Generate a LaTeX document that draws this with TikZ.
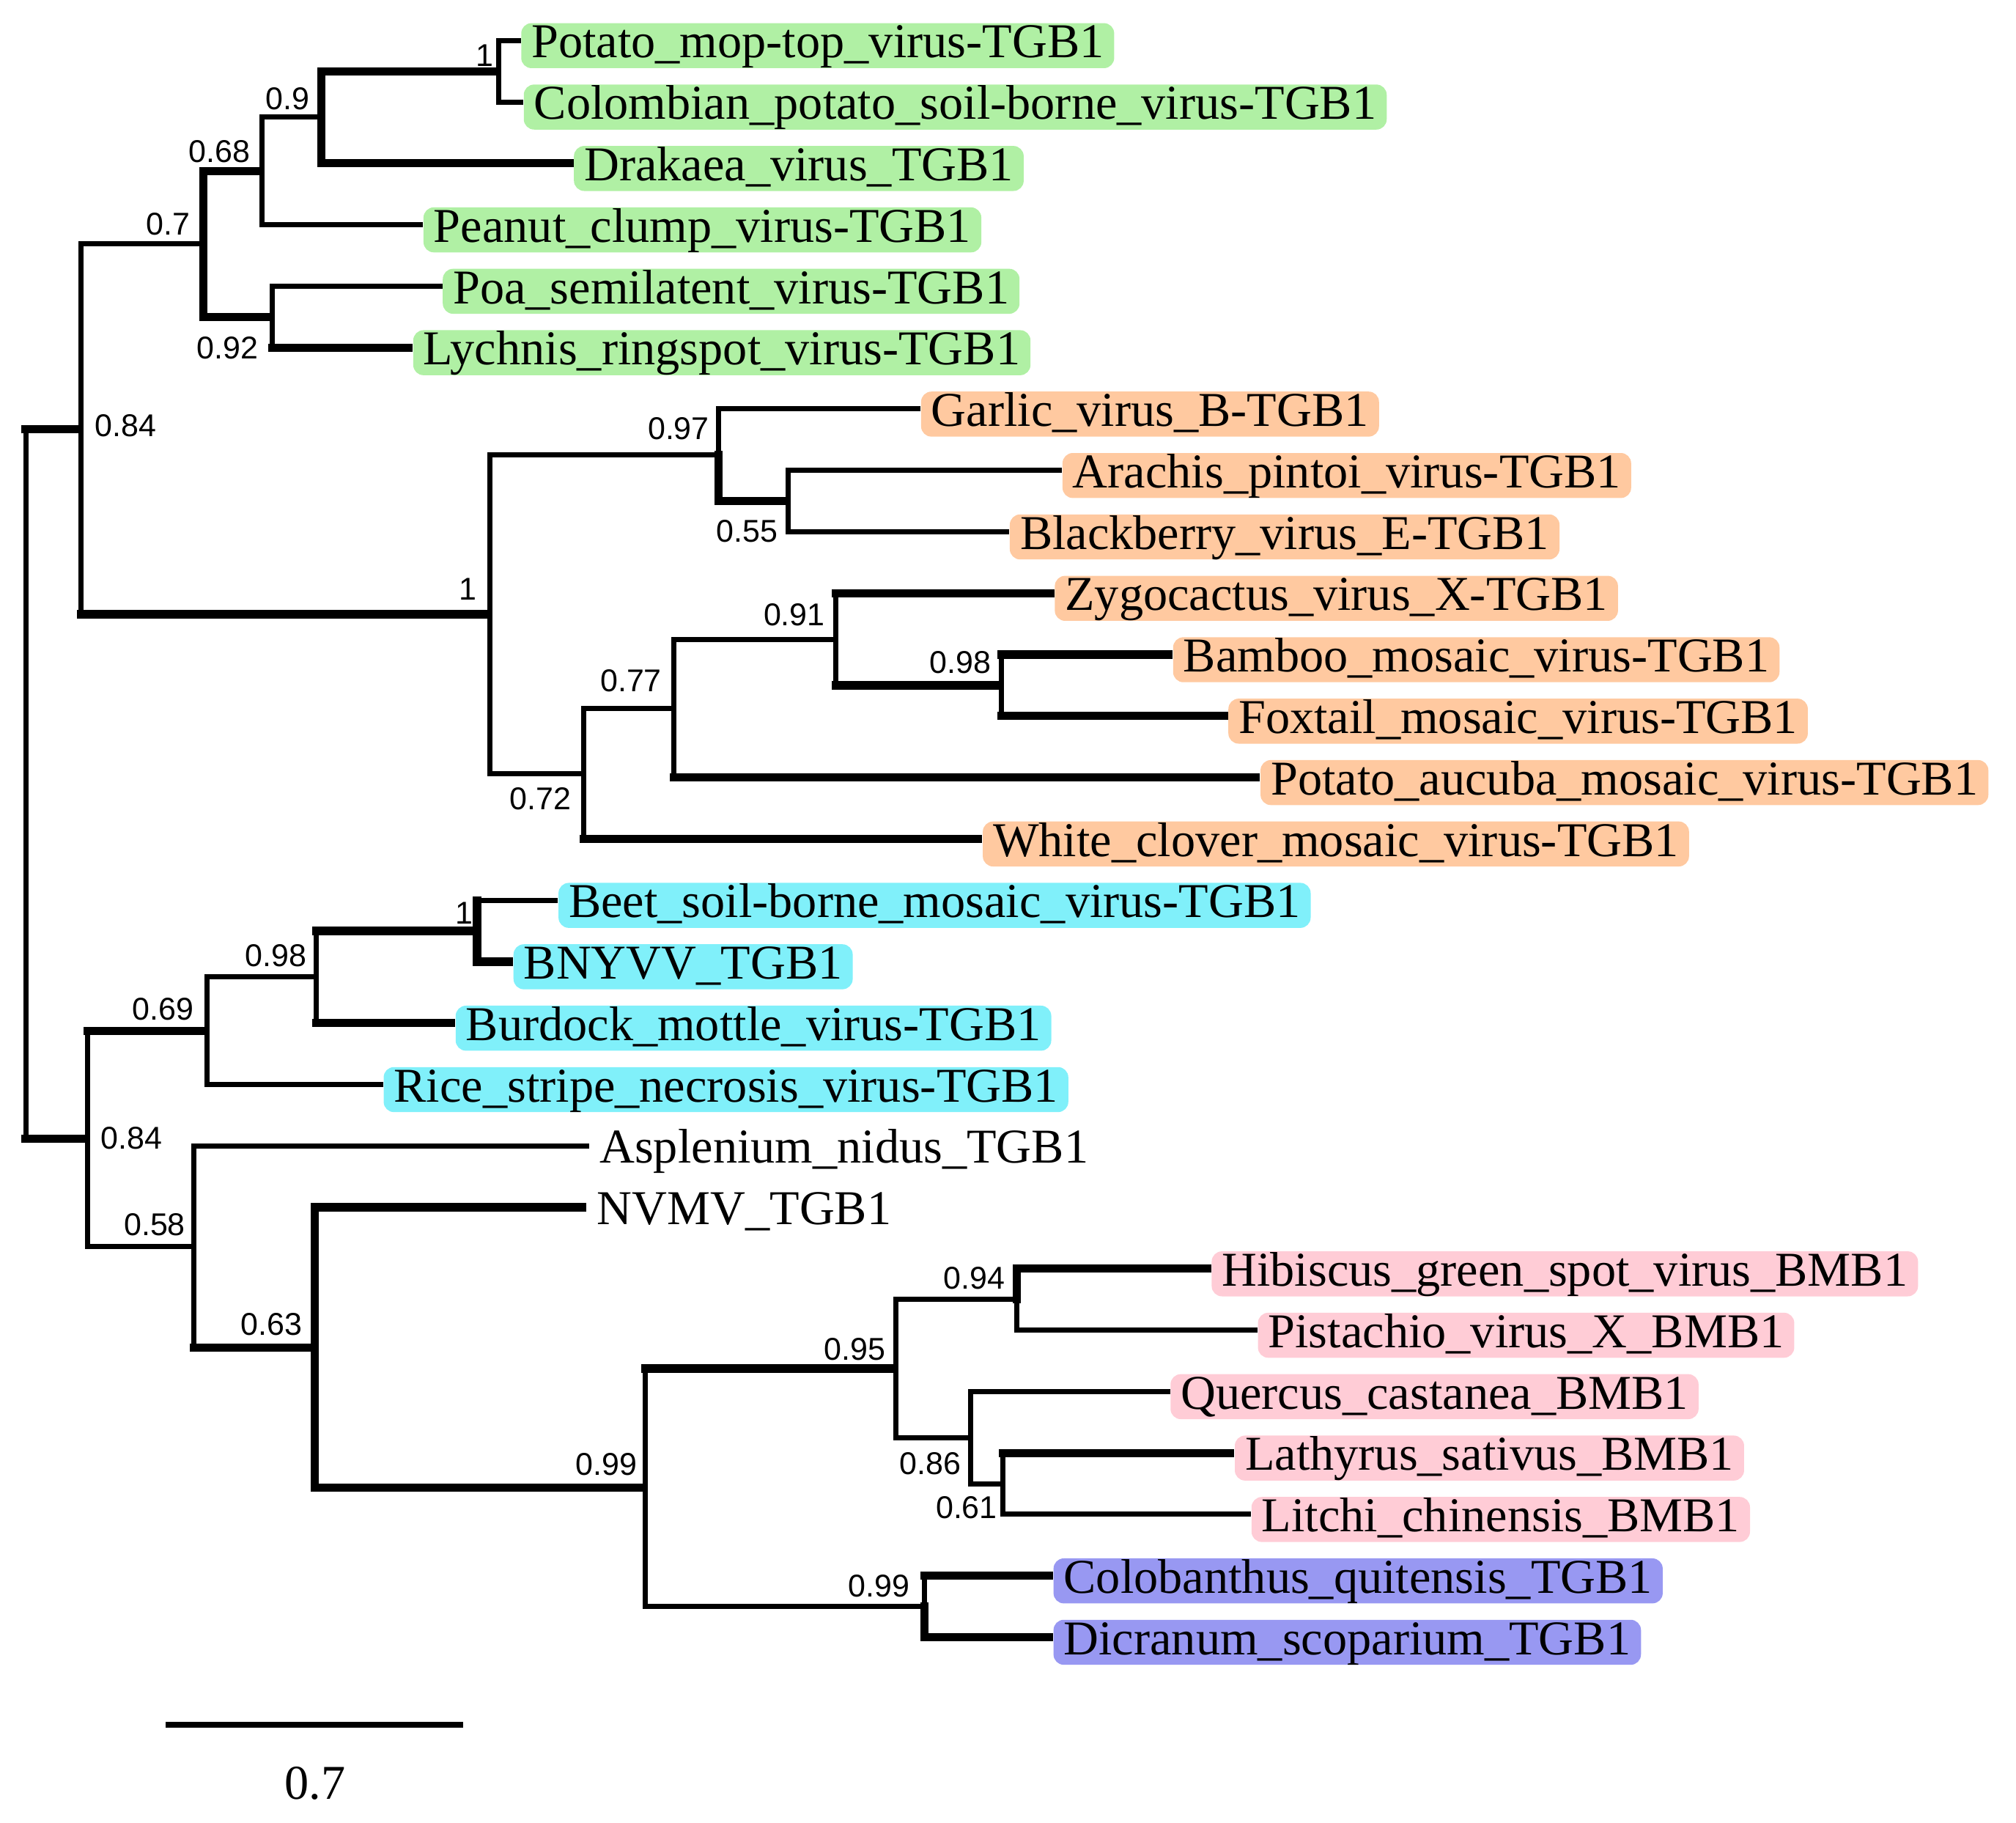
\documentclass[tikz,border=0pt]{standalone}
\usepackage{fontspec}
\setmainfont{Liberation Serif}
\newfontfamily\bsfont{Liberation Sans}
\definecolor{cgreen}{RGB}{176,240,164}
\definecolor{corange}{RGB}{255,201,160}
\definecolor{ccyan}{RGB}{128,240,250}
\definecolor{cpink}{RGB}{255,204,214}
\definecolor{cblue}{RGB}{152,152,242}
\tikzset{
  leaf/.style={anchor=west, yshift=-2pt, inner xsep=4pt, inner ysep=0pt,
    text height=13.5pt, text depth=4pt, rounded corners=4pt,
    font=\fontsize{18.9pt}{22pt}\selectfont},
  gr/.style={leaf, fill=cgreen},
  orr/.style={leaf, fill=corange},
  cy/.style={leaf, fill=ccyan},
  pk/.style={leaf, fill=cpink},
  bl/.style={leaf, fill=cblue},
  bs/.style={inner sep=0pt, anchor=east, font=\bsfont\fontsize{12.25pt}{14pt}\selectfont},
  thinln/.style={line width=2pt, line cap=rect, line join=miter, shorten >=1pt},
  thickln/.style={line width=3.2pt, line cap=rect, line join=miter, shorten >=1.6pt},
}
\begin{document}
\begin{tikzpicture}[x=0.5pt, y=-0.5pt]
\useasboundingbox (0,0) rectangle (1568,1417);

% ---- leaves ----
\node[gr] (l1) at (405,31.5) {Potato\_mop-top\_virus-TGB1};
\node[gr] (l2) at (407,79.25) {Colombian\_potato\_soil-borne\_virus-TGB1};
\node[gr] (l3) at (446,127) {Drakaea\_virus\_TGB1};
\node[gr] (l4) at (329,174.75) {Peanut\_clump\_virus-TGB1};
\node[gr] (l5) at (344,222.5) {Poa\_semilatent\_virus-TGB1};
\node[gr] (l6) at (321,270.25) {Lychnis\_ringspot\_virus-TGB1};
\node[orr] (l7) at (716,318) {Garlic\_virus\_B-TGB1};
\node[orr] (l8) at (826,365.75) {Arachis\_pintoi\_virus-TGB1};
\node[orr] (l9) at (785,413.5) {Blackberry\_virus\_E-TGB1};
\node[orr] (l10) at (820,461.25) {Zygocactus\_virus\_X-TGB1};
\node[orr] (l11) at (912,509) {Bamboo\_mosaic\_virus-TGB1};
\node[orr] (l12) at (955,556.75) {Foxtail\_mosaic\_virus-TGB1};
\node[orr] (l13) at (980,604.5) {Potato\_aucuba\_mosaic\_virus-TGB1};
\node[orr] (l14) at (764,652.25) {White\_clover\_mosaic\_virus-TGB1};
\node[cy] (l15) at (434,700) {Beet\_soil-borne\_mosaic\_virus-TGB1};
\node[cy] (l16) at (399,747.75) {BNYVV\_TGB1};
\node[cy] (l17) at (354,795.5) {Burdock\_mottle\_virus-TGB1};
\node[cy] (l18) at (298,843.25) {Rice\_stripe\_necrosis\_virus-TGB1};
\node[leaf] (l19) at (458,891) {Asplenium\_nidus\_TGB1};
\node[leaf] (l20) at (456,938.75) {NVMV\_TGB1};
\node[pk] (l21) at (942,986.5) {Hibiscus\_green\_spot\_virus\_BMB1};
\node[pk] (l22) at (978,1034.25) {Pistachio\_virus\_X\_BMB1};
\node[pk] (l23) at (910,1082) {Quercus\_castanea\_BMB1};
\node[pk] (l24) at (960,1129.75) {Lathyrus\_sativus\_BMB1};
\node[pk] (l25) at (973,1177.5) {Litchi\_chinensis\_BMB1};
\node[bl] (l26) at (819,1225.25) {Colobanthus\_quitensis\_TGB1};
\node[bl] (l27) at (819,1273) {Dicranum\_scoparium\_TGB1};

\foreach \i in {1,...,27} {\coordinate (e\i) at ([yshift=2pt]l\i.west);}

% ---- internal nodes ----
\coordinate (n1t) at (388,55.375);
\coordinate (n09) at (250,91.19);
\coordinate (n068) at (204,132.97);
\coordinate (n092) at (212,246.375);
\coordinate (n07) at (158,189.67);
\coordinate (n055) at (613,389.625);
\coordinate (n097) at (559,353.81);
\coordinate (n098o) at (779,532.875);
\coordinate (n091) at (650,497.06);
\coordinate (n077) at (524,550.78);
\coordinate (n072) at (454,601.52);
\coordinate (n1o) at (381,477.66);
\coordinate (n84t) at (63,333.67);
\coordinate (n1c) at (371,723.875);
\coordinate (n098c) at (246,759.69);
\coordinate (n069) at (161,801.47);
\coordinate (n094) at (791,1010.375);
\coordinate (n061) at (780,1153.625);
\coordinate (n086) at (755,1117.81);
\coordinate (n095) at (697,1064.09);
\coordinate (n099b) at (719,1249.125);
\coordinate (n099) at (502,1156.61);
\coordinate (n063) at (245,1047.68);
\coordinate (n058) at (151,969.34);
\coordinate (n84b) at (68,885.4);
\coordinate (root) at (20,609.5);

% ---- edges ----
\draw[thinln] (root) |- (n84t); \draw[thickln] (root |- n84t) -- (n84t);
\draw[thinln] (root) |- (n84b); \draw[thickln] (root |- n84b) -- (n84b);
\draw[thinln] (n84t) |- (n07);
\draw[thinln] (n84t) |- (n1o); \draw[thickln] (n84t |- n1o) -- (n1o);
\draw[thickln] (n07) |- (n068);
\draw[thickln] (n07) |- (n092);
\draw[thinln] (n068) |- (n09);
\draw[thinln] (n068) |- (e4);
\draw[thickln] (n09) |- (n1t);
\draw[thickln] (n09) |- (e3);
\draw[thinln] (n1t) |- (e1);
\draw[thinln] (n1t) |- (e2);
\draw[thinln] (n092) |- (e5);
\draw[thinln] (n092) |- (e6); \draw[thickln] (n092 |- e6) -- (e6);
\draw[thinln] (n1o) |- (n097);
\draw[thinln] (n1o) |- (n072);
\draw[thinln] (n097) |- (e7);
\draw[thickln] (n097) |- (n055);
\draw[thinln] (n055) |- (e8);
\draw[thinln] (n055) |- (e9);
\draw[thinln] (n072) |- (n077);
\draw[thinln] (n072) |- (e14); \draw[thickln] (n072 |- e14) -- (e14);
\draw[thinln] (n077) |- (n091);
\draw[thinln] (n077) |- (e13); \draw[thickln] (n077 |- e13) -- (e13);
\draw[thinln] (n091) |- (e10); \draw[thickln] (n091 |- e10) -- (e10);
\draw[thinln] (n091) |- (n098o); \draw[thickln] (n091 |- n098o) -- (n098o);
\draw[thinln] (n098o) |- (e11); \draw[thickln] (n098o |- e11) -- (e11);
\draw[thinln] (n098o) |- (e12); \draw[thickln] (n098o |- e12) -- (e12);
\draw[thinln] (n84b) |- (n069); \draw[thickln] (n84b |- n069) -- (n069);
\draw[thinln] (n84b) |- (n058);
\draw[thinln] (n069) |- (n098c);
\draw[thinln] (n069) |- (e18);
\draw[thinln] (n098c) |- (n1c); \draw[thickln] (n098c |- n1c) -- (n1c);
\draw[thinln] (n098c) |- (e17); \draw[thickln] (n098c |- e17) -- (e17);
\draw[thickln, shorten >=0pt] (n1c) -- (n1c |- e15); \draw[thinln] (n1c |- e15) -- (e15);
\draw[thickln] (n1c) |- (e16);
\draw[thinln] (n058) |- (e19);
\draw[thinln] (n058) |- (n063); \draw[thickln] (n058 |- n063) -- (n063);
\draw[thickln] (n063) |- (e20);
\draw[thickln] (n063) |- (n099);
\draw[thinln] (n099) |- (n095); \draw[thickln] (n099 |- n095) -- (n095);
\draw[thinln] (n099) |- (n099b);
\draw[thinln] (n095) |- (n094);
\draw[thinln] (n095) |- (n086);
\draw[thickln] (n094) |- (e21);
\draw[thinln] (n094) |- (e22);
\draw[thinln] (n086) |- (e23);
\draw[thinln] (n086) |- (n061);
\draw[thinln] (n061) |- (e24); \draw[thickln] (n061 |- e24) -- (e24);
\draw[thinln] (n061) |- (e25);
\draw[thinln] (n099b) |- (e26); \draw[thickln] (n099b |- e26) -- (e26);
\draw[thickln] (n099b) |- (e27);

% ---- support values ----
\node[bs] (b1t) at (384,43) {1};
\node[bs] (b09) at (241,77) {0.9};
\node[bs] (b068) at (195,118) {0.68};
\node[bs] (b07) at (148,174) {0.7};
\node[bs] (b092) at (201,270.5) {0.92};
\node[bs, anchor=west] (b84t) at (73.5,331) {0.84};
\node[bs] (b1o) at (371,458) {1};
\node[bs] (b097) at (552,333) {0.97};
\node[bs] (b055) at (605.5,413) {0.55};
\node[bs] (b072) at (444.5,621) {0.72};
\node[bs] (b077) at (515,529.5) {0.77};
\node[bs] (b091) at (642,478) {0.91};
\node[bs] (b098o) at (771,515) {0.98};
\node[bs] (b1c) at (368,710) {1};
\node[bs] (b098c) at (239,743) {0.98};
\node[bs] (b069) at (151,784.5) {0.69};
\node[bs, anchor=west] (b84b) at (78,885) {0.84};
\node[bs] (b058) at (144.5,952) {0.58};
\node[bs] (b063) at (235.5,1030) {0.63};
\node[bs] (b099) at (496,1138.5) {0.99};
\node[bs] (b095) at (689,1049) {0.95};
\node[bs] (b094) at (782,994) {0.94};
\node[bs] (b086) at (748,1138) {0.86};
\node[bs] (b061) at (776,1172.5) {0.61};
\node[bs] (b099b) at (708,1233) {0.99};

% ---- scale bar ----
\coordinate (sbl) at (129,1341);
\coordinate (sbr) at (360,1341);
\draw[line width=2.4pt] (sbl) -- (sbr);
\node[anchor=base, inner sep=0pt, font=\fontsize{18.9pt}{22pt}\selectfont] (sbt) at (245,1399) {0.7};
\end{tikzpicture}
\end{document}
